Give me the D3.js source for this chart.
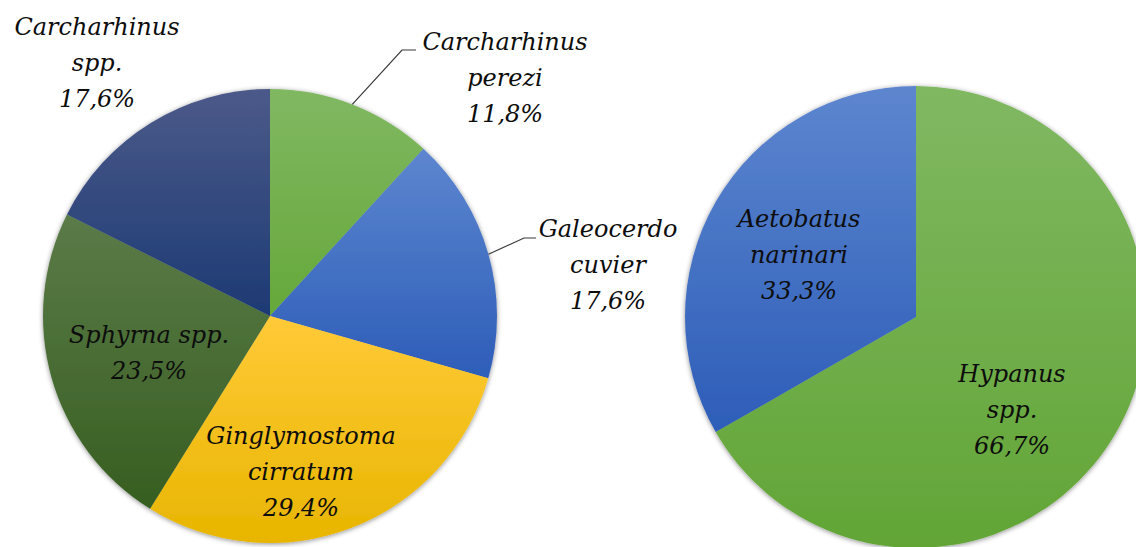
<!DOCTYPE html>
<html>
<head>
<meta charset="utf-8">
<script src="https://cdn.jsdelivr.net/npm/d3@7"></script>
<style>
  html, body { margin: 0; padding: 0; background: #fff; }
  svg { display: block; }
  .lbl { font-family: 'DejaVu Serif', serif; font-style: italic; font-size: 24px; fill: #0d0d0d; }
</style>
</head>
<body>
<div id="chart"></div>
<script>
// sharks (left pie), clockwise from 12 o'clock
const sharkNames = ['Carcharhinus perezi', 'Galeocerdo cuvier', 'Ginglymostoma cirratum', 'Sphyrna spp.', 'Carcharhinus spp.'];
const sharkValues = [11.8, 17.6, 29.4, 23.5, 17.6];
// rays (right pie)
const rayNames = ['Hypanus spp.', 'Aetobatus narinari'];
const rayValues = [66.7, 33.3];

// label text lines per slice
const sharkLabelLines = [
  ['Carcharhinus', 'perezi'],
  ['Galeocerdo', 'cuvier'],
  ['Ginglymostoma', 'cirratum'],
  ['Sphyrna spp.'],
  ['Carcharhinus', 'spp.']
];
const rayLabelLines = [
  ['Hypanus', 'spp.'],
  ['Aetobatus', 'narinari']
];

// gradient colours (top, bottom) per slice
const sharkColors = [
  ['#80b862', '#66a83a'],
  ['#5d86cf', '#2d5db8'],
  ['#ffca38', '#e8b500'],
  ['#5b7b48', '#375e21'],
  ['#4b5a89', '#1d3a74']
];
const rayColors = [
  ['#80b862', '#62a536'],
  ['#5d86cf', '#2d5db8']
];

const width = 1136, height = 547;
const fmt = v => d3.format('.1f')(v).replace('.', ',') + '%';

const svg = d3.select('#chart').append('svg')
  .attr('width', width)
  .attr('height', height);

const defs = svg.append('defs');
const shadow = defs.append('filter').attr('id', 'shadow')
  .attr('x', '-10%').attr('y', '-10%').attr('width', '120%').attr('height', '120%');
shadow.append('feDropShadow')
  .attr('dx', 0).attr('dy', 1)
  .attr('stdDeviation', 2.5)
  .attr('flood-color', '#000')
  .attr('flood-opacity', 0.45);

function addGradients(prefix, colors) {
  colors.forEach((c, i) => {
    const g = defs.append('linearGradient')
      .attr('id', `${prefix}_${i}`)
      .attr('x1', 0).attr('y1', 0).attr('x2', 0).attr('y2', 1);
    g.append('stop').attr('offset', '0%').attr('stop-color', c[0]);
    g.append('stop').attr('offset', '100%').attr('stop-color', c[1]);
  });
}
addGradients('shark', sharkColors);
addGradients('ray', rayColors);

const pie = d3.pie().sort(null).value(d => d);

// label placement: offset of the block centre (middle baseline) from the pie centre
const sharkLabelPos = [
  { dx: 235, dy: -230 },
  { dx: 338, dy: -43 },
  { dx: 31, dy: 164 },
  { dx: -121, dy: 45 },
  { dx: -173, dy: -245 }
];
const rayLabelPos = [
  { dx: 96, dy: 101 },
  { dx: -117, dy: -54 }
];

// leader lines for the outside labels (elbow and end, relative to pie centre)
const sharkLeaders = [
  { slice: 0, elbow: [132, -266], end: [146, -266] },
  { slice: 1, elbow: [254, -78], end: [266, -78] }
];

function drawPie(cx, cy, r, values, prefix, lines, pos, leaders) {
  const g = svg.append('g').attr('transform', `translate(${cx},${cy})`);
  const arcs = pie(values);
  const arc = d3.arc().innerRadius(0).outerRadius(r);

  g.append('g')
    .attr('filter', 'url(#shadow)')
    .selectAll('path')
    .data(arcs)
    .join('path')
    .attr('d', arc)
    .attr('fill', (d, i) => `url(#${prefix}_${i})`);

  if (leaders) {
    leaders.forEach(l => {
      const a = arcs[l.slice];
      const mid = (a.startAngle + a.endAngle) / 2;
      const px = Math.sin(mid) * r, py = -Math.cos(mid) * r;
      g.append('polyline')
        .attr('points', [[px, py], l.elbow, l.end].map(p => p.join(',')).join(' '))
        .attr('fill', 'none')
        .attr('stroke', '#3a3a3a')
        .attr('stroke-width', 1.2);
    });
  }

  arcs.forEach((a, i) => {
    const txt = lines[i].concat([fmt(values[i])]);
    const n = txt.length;
    const t = g.append('text')
      .attr('class', 'lbl')
      .attr('text-anchor', 'middle');
    txt.forEach((s, k) => {
      t.append('tspan')
        .attr('x', pos[i].dx)
        .attr('y', pos[i].dy + (k - (n - 1) / 2) * 36)
        .text(s);
    });
  });
}

drawPie(270, 316, 227, sharkValues, 'shark', sharkLabelLines, sharkLabelPos, sharkLeaders);
drawPie(916, 317, 231, rayValues, 'ray', rayLabelLines, rayLabelPos, null);
</script>
</body>
</html>
